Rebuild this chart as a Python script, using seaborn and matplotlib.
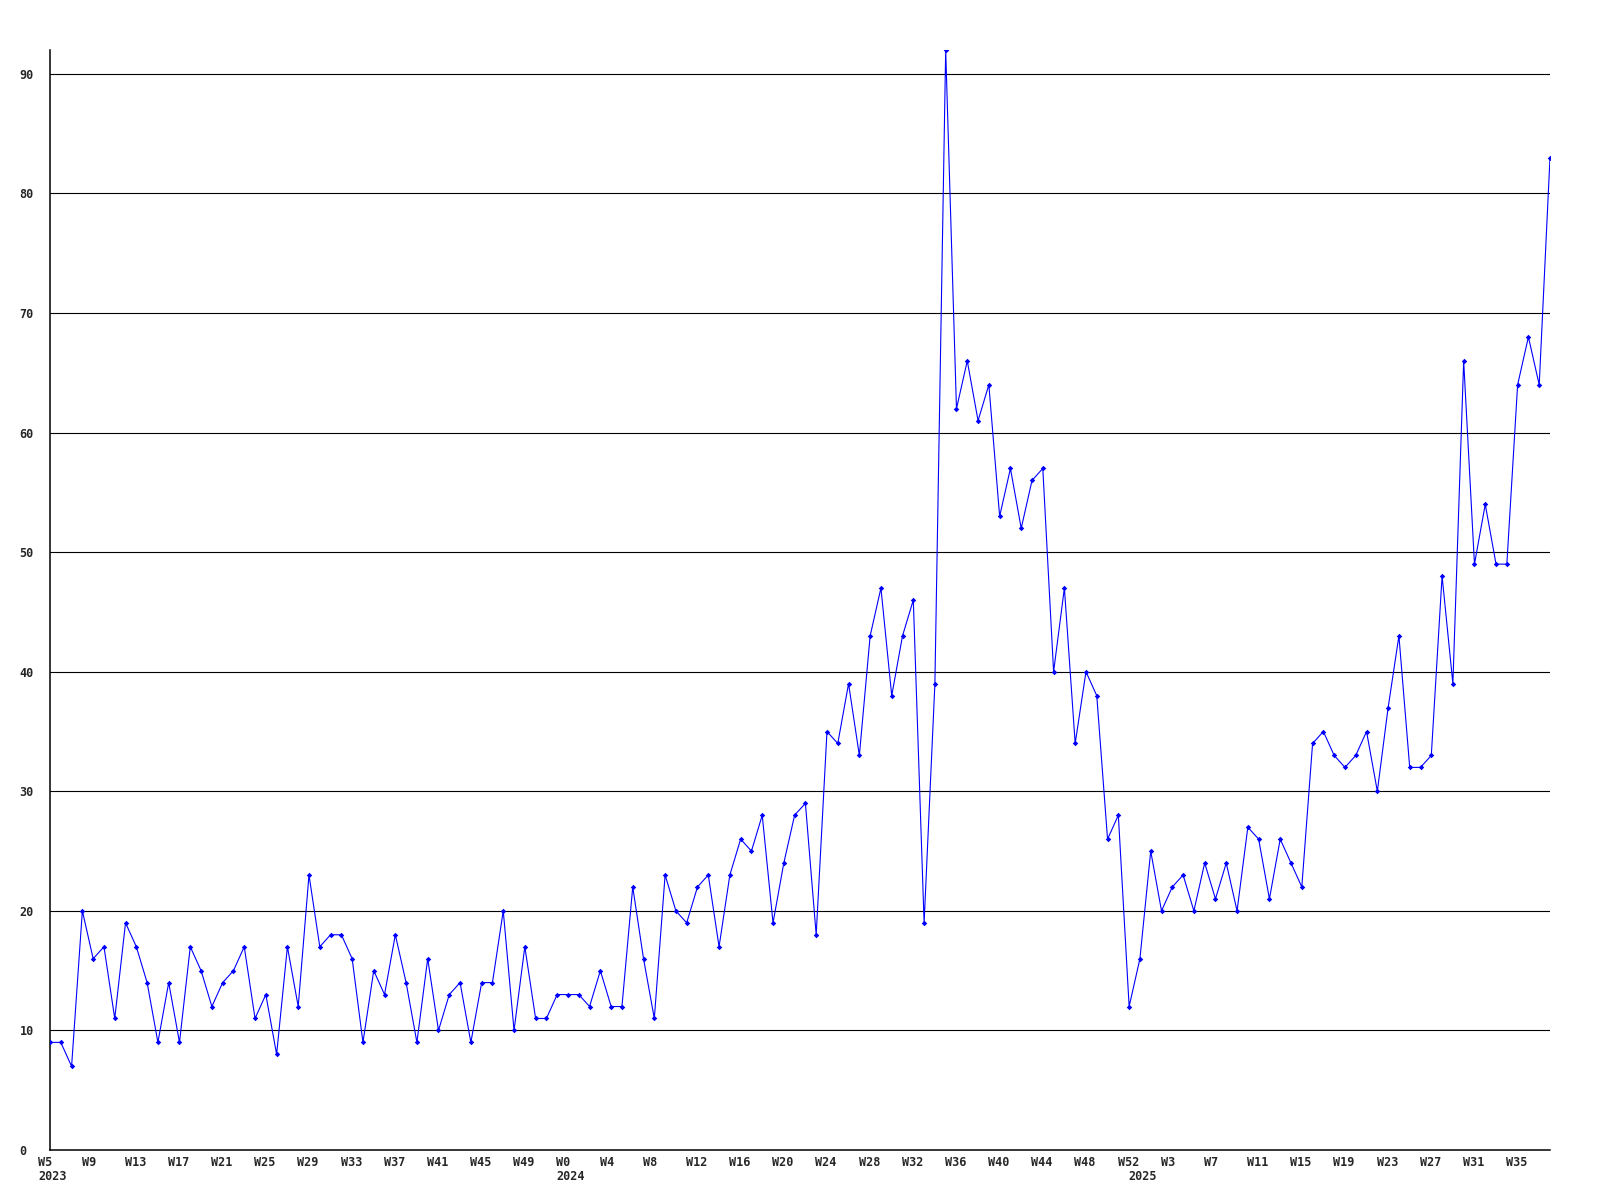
import numpy as np
import pandas as pd
import matplotlib
matplotlib.use("Agg")
import matplotlib.pyplot as plt
import matplotlib.transforms as mtransforms
import seaborn as sns

# weekly values
weeks_2023 = list(range(5, 53))
vals_2023 = [9, 9, 7, 20, 16, 17, 11, 19, 17, 14, 9, 14, 9, 17, 15, 12,
             14, 15, 17, 11, 13, 8, 17, 12, 23, 17, 18, 18, 16, 9, 15, 13,
             18, 14, 9, 16, 10, 13, 14, 9, 14, 14, 20, 10, 17, 11, 11, 13]
weeks_2024 = list(range(0, 53))
vals_2024 = [13, 13, 12, 15, 12, 12, 22, 16, 11, 23, 20, 19, 22, 23, 17, 23,
             26, 25, 28, 19, 24, 28, 29, 18, 35, 34, 39, 33, 43, 47, 38, 43,
             46, 19, 39, 92, 62, 66, 61, 64, 53, 57, 52, 56, 57, 40, 47, 34,
             40, 38, 26, 28, 12]
weeks_2025 = list(range(0, 39))
vals_2025 = [16, 25, 20, 22, 23, 20, 24, 21, 24, 20, 27, 26, 21, 26, 24, 22,
             34, 35, 33, 32, 33, 35, 30, 37, 43, 32, 32, 33, 48, 39, 66, 49,
             54, 49, 49, 64, 68, 64, 83]
years = [2023, 2024, 2025]

rows = []
for yr, wks, vals in zip(years, [weeks_2023, weeks_2024, weeks_2025],
                         [vals_2023, vals_2024, vals_2025]):
    for w, v in zip(wks, vals):
        rows.append((yr, w, v))
df = pd.DataFrame(rows, columns=["year", "week", "count"])
df["pos"] = np.arange(len(df))

sns.set_style("white")
plt.rcParams["font.family"] = ["DejaVu Sans Mono"]
plt.rcParams["font.weight"] = "bold"

fig = plt.figure(figsize=(16, 12), dpi=100)
ax = fig.add_axes([50 / 1600, 50 / 1200, 1500 / 1600, 1100 / 1200])

for g in range(10, 100, 10):
    ax.axhline(g, color="black", lw=0.8, zorder=1)

sns.lineplot(data=df, x="pos", y="count", ax=ax, color="#0000ff", lw=0.8,
             marker="D", markersize=2.8, markeredgewidth=0, zorder=3)

ax.set_xlim(0, len(df) - 1)
ax.set_ylim(0, 92)

for side in ["top", "right"]:
    ax.spines[side].set_visible(False)
for side in ["left", "bottom"]:
    ax.spines[side].set_color("black")
    ax.spines[side].set_linewidth(1.1)

ax.set_yticks(range(0, 100, 10))
ax.set_yticklabels([str(v) for v in range(0, 100, 10)], fontsize=8.5,
                   fontweight="bold")
ax.tick_params(axis="y", length=0, pad=22)
for lab in ax.get_yticklabels():
    lab.set_horizontalalignment("left")

tick_pos = df["pos"].values[::4]
tick_lab = ["W%d" % w for w in df["week"].values[::4]]
ax.set_xticks(tick_pos)
ax.set_xticklabels(tick_lab, fontsize=8.5, fontweight="bold")
ax.tick_params(axis="x", length=0, pad=4)
shift = mtransforms.ScaledTranslation(-11.5 / 100, 0, fig.dpi_scale_trans)
for lab in ax.get_xticklabels():
    lab.set_horizontalalignment("left")
    lab.set_transform(lab.get_transform() + shift)

trans = mtransforms.blended_transform_factory(ax.transData, ax.transAxes)
ytrans = trans + mtransforms.ScaledTranslation(-11.5 / 100, -27 / 100,
                                                fig.dpi_scale_trans)
for yr in years:
    first = df.loc[df["year"] == yr, "pos"].iloc[0]
    ax.text(first, 0, str(yr), transform=ytrans, ha="left", va="center",
            fontsize=8.5, fontweight="bold")

ax.set_xlabel("")
ax.set_ylabel("")
fig.savefig("out.png", dpi=100)
